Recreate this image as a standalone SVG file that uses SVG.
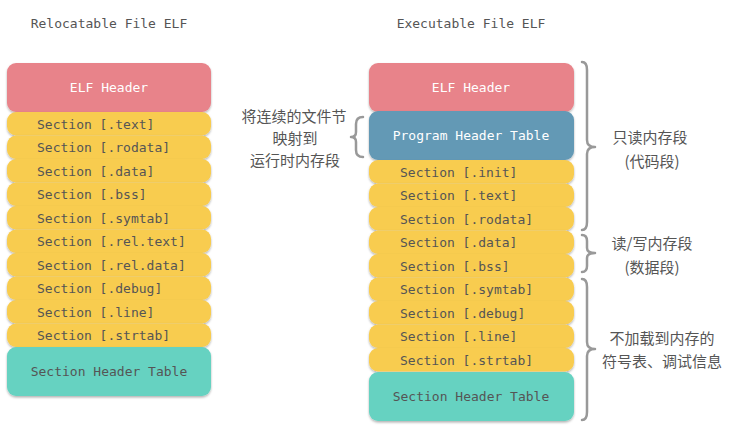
<svg xmlns="http://www.w3.org/2000/svg" width="732" height="437" viewBox="0 0 732 437">
<defs>
<filter id="sh" x="-10%" y="-20%" width="120%" height="160%">
<feDropShadow dx="0" dy="1.5" stdDeviation="1.2" flood-color="#000" flood-opacity="0.3"/>
</filter>
<style>
.box{filter:url(#sh)}
.hdr{fill:#E8838A}
.sec{fill:#F8CC50}
.sht{fill:#66D2C1}
.pht{fill:#6399B5}
.m{font-family:"DejaVu Sans Mono","Liberation Mono",monospace;font-size:13px;dominant-baseline:central}
.w{fill:#ffffff;text-anchor:middle}
.d{fill:#555555}
.c{text-anchor:middle}
.t{font-family:"DejaVu Sans Mono","Liberation Mono",monospace;font-size:13px;fill:#555555;text-anchor:middle}
.cn{font-family:"Noto Sans CJK SC","Noto Sans",sans-serif;font-size:15px;fill:#555555;text-anchor:middle;dominant-baseline:central}
.br{fill:none;stroke:#999999;stroke-width:2.5;stroke-linecap:round;stroke-linejoin:round}
</style>
</defs>
<text class="t" x="109" y="28">Relocatable File ELF</text>
<text class="t" x="471" y="28">Executable File ELF</text>

<g id="left">
<g id="l-elf"><rect class="box hdr" x="7" y="63" width="204" height="49" rx="9"/><text class="m w" x="109" y="87.5">ELF Header</text></g>
<g id="l-text"><rect class="box sec" x="7" y="112" width="204" height="23.5" rx="9"/><text class="m d" x="37" y="124">Section [.text]</text></g>
<g id="l-rodata"><rect class="box sec" x="7" y="135.5" width="204" height="23.5" rx="9"/><text class="m d" x="37" y="147.5">Section [.rodata]</text></g>
<g id="l-data"><rect class="box sec" x="7" y="159" width="204" height="23.5" rx="9"/><text class="m d" x="37" y="171">Section [.data]</text></g>
<g id="l-bss"><rect class="box sec" x="7" y="182.5" width="204" height="23.5" rx="9"/><text class="m d" x="37" y="194.5">Section [.bss]</text></g>
<g id="l-symtab"><rect class="box sec" x="7" y="206" width="204" height="23.5" rx="9"/><text class="m d" x="37" y="218">Section [.symtab]</text></g>
<g id="l-reltext"><rect class="box sec" x="7" y="229.5" width="204" height="23.5" rx="9"/><text class="m d" x="37" y="241.5">Section [.rel.text]</text></g>
<g id="l-reldata"><rect class="box sec" x="7" y="253" width="204" height="23.5" rx="9"/><text class="m d" x="37" y="265">Section [.rel.data]</text></g>
<g id="l-debug"><rect class="box sec" x="7" y="276.5" width="204" height="23.5" rx="9"/><text class="m d" x="37" y="288.5">Section [.debug]</text></g>
<g id="l-line"><rect class="box sec" x="7" y="300" width="204" height="23.5" rx="9"/><text class="m d" x="37" y="312">Section [.line]</text></g>
<g id="l-strtab"><rect class="box sec" x="7" y="323.5" width="204" height="23.5" rx="9"/><text class="m d" x="37" y="335.5">Section [.strtab]</text></g>
<g id="l-sht"><rect class="box sht" x="7" y="347" width="204" height="49" rx="9"/><text class="m d c" x="109" y="371.5">Section Header Table</text></g>
</g>

<g id="right">
<g id="r-elf"><rect class="box hdr" x="369" y="63" width="205" height="49" rx="9"/><text class="m w" x="471" y="87.5">ELF Header</text></g>
<g id="r-pht"><rect class="box pht" x="369" y="111" width="205" height="49" rx="9"/><text class="m w" x="471" y="135.5">Program Header Table</text></g>
<g id="r-init"><rect class="box sec" x="369" y="160" width="205" height="23.5" rx="9"/><text class="m d" x="400" y="172">Section [.init]</text></g>
<g id="r-text"><rect class="box sec" x="369" y="183.5" width="205" height="23.5" rx="9"/><text class="m d" x="400" y="195.5">Section [.text]</text></g>
<g id="r-rodata"><rect class="box sec" x="369" y="207" width="205" height="23.5" rx="9"/><text class="m d" x="400" y="219">Section [.rodata]</text></g>
<g id="r-data"><rect class="box sec" x="369" y="230.5" width="205" height="23.5" rx="9"/><text class="m d" x="400" y="242.5">Section [.data]</text></g>
<g id="r-bss"><rect class="box sec" x="369" y="254" width="205" height="23.5" rx="9"/><text class="m d" x="400" y="266">Section [.bss]</text></g>
<g id="r-symtab"><rect class="box sec" x="369" y="277.5" width="205" height="23.5" rx="9"/><text class="m d" x="400" y="289.5">Section [.symtab]</text></g>
<g id="r-debug"><rect class="box sec" x="369" y="301" width="205" height="23.5" rx="9"/><text class="m d" x="400" y="313">Section [.debug]</text></g>
<g id="r-line"><rect class="box sec" x="369" y="324.5" width="205" height="23.5" rx="9"/><text class="m d" x="400" y="336.5">Section [.line]</text></g>
<g id="r-strtab"><rect class="box sec" x="369" y="348" width="205" height="23.5" rx="9"/><text class="m d" x="400" y="360">Section [.strtab]</text></g>
<g id="r-sht"><rect class="box sht" x="369" y="372" width="205" height="49" rx="9"/><text class="m d c" x="471" y="396.5">Section Header Table</text></g>
</g>

<g id="connectors">
<path class="br" d="M582 62 Q587 62 587 70 L587 140 Q587 147 595 147 Q587 147 587 154 L587 222 Q587 230 582 230"/>
<path class="br" d="M582 235 Q587 235 587 241 L587 248 Q587 253 595 253 Q587 253 587 258 L587 266 Q587 272 582 272"/>
<path class="br" d="M582 279 Q587 279 587 287 L587 342 Q587 349 595 349 Q587 349 587 356 L587 412 Q587 420 582 420"/>
<path class="br" d="M363 117 Q356 117 356 124 L356 132 Q356 137 351 137 Q356 137 356 142 L356 150 Q356 157 363 157"/>
</g>

<g id="labels">
<text class="cn" x="294" y="115">将连续的文件节</text>
<text class="cn" x="295" y="137">映射到</text>
<text class="cn" x="295" y="159">运行时内存段</text>
<text class="cn" x="650" y="136">只读内存段</text>
<text class="cn" x="652" y="160">(代码段)</text>
<text class="cn" x="652" y="242">读/写内存段</text>
<text class="cn" x="652" y="266">(数据段)</text>
<text class="cn" x="662" y="337">不加载到内存的</text>
<text class="cn" x="662" y="360">符号表、调试信息</text>
</g>
</svg>
